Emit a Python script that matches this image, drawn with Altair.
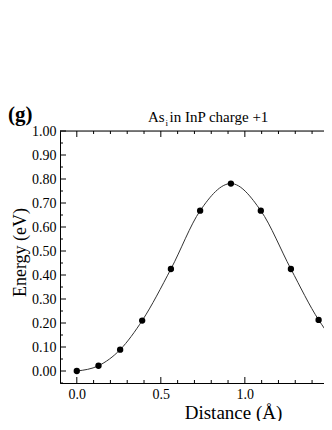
import altair as alt
import pandas as pd

# ---- data ----
distance = [0.0, 0.129, 0.258, 0.389, 0.560, 0.734, 0.917, 1.095, 1.274, 1.439, 1.576, 1.705, 1.834]
energy = [0.0, 0.022, 0.089, 0.210, 0.425, 0.668, 0.781, 0.668, 0.425, 0.213, 0.089, 0.022, 0.0]

x_major = [0.0, 0.5, 1.0, 1.5]
x_minor = [-0.1, 0.1, 0.2, 0.3, 0.4, 0.6, 0.7, 0.8, 0.9, 1.1, 1.2, 1.3, 1.4]
y_major = [0.0, 0.1, 0.2, 0.3, 0.4, 0.5, 0.6, 0.7, 0.8, 0.9, 1.0]
y_minor = [-0.05, 0.05, 0.15, 0.25, 0.35, 0.45, 0.55, 0.65, 0.75, 0.85, 0.95]

panel_label = "(g)"
title_main = "As"
title_sub = "i"
title_rest = "in InP charge +1"
x_title = "Distance (Å)"
y_title = "Energy (eV)"

FONT = "Liberation Serif"
W, H = 264, 252
MAJ, MIN = 6, 3

xs = alt.Scale(domain=[-0.1, 1.471], nice=False, zero=False)
ys = alt.Scale(domain=[-0.05, 1.0], nice=False, zero=False)

xa = alt.Axis(
    values=x_major, format=".1f", title=x_title, ticks=False, tickSize=0,
    domain=True, domainColor="black", domainWidth=1, grid=False,
    labelFont=FONT, labelFontSize=14, labelColor="black", labelPadding=4,
    titleFont=FONT, titleFontSize=19, titleFontWeight="normal",
    titleColor="black", titlePadding=2, titleX=173)
ya = alt.Axis(
    values=y_major, format=".2f", title=y_title, ticks=False, tickSize=0,
    domain=True, domainColor="black", domainWidth=1, grid=False,
    labelFont=FONT, labelFontSize=14, labelColor="black", labelPadding=4,
    titleFont=FONT, titleFontSize=18, titleFontWeight="normal",
    titleColor="black", titlePadding=2, titleY=121)

df = pd.DataFrame({"d": distance, "e": energy})

line = alt.Chart(df).mark_line(
    interpolate="monotone", color="#333333", strokeWidth=1, clip=True
).encode(
    x=alt.X("d:Q", scale=xs, axis=xa),
    y=alt.Y("e:Q", scale=ys, axis=ya),
)

points = alt.Chart(df).mark_point(
    filled=True, color="black", size=40, opacity=1, clip=True
).encode(
    x=alt.X("d:Q", scale=xs, axis=xa),
    y=alt.Y("e:Q", scale=ys, axis=ya),
)


def xticks(vals, length):
    d = pd.DataFrame({"d": vals})
    bottom = alt.Chart(d).mark_rule(color="black", strokeWidth=1, clip=True).encode(
        x=alt.X("d:Q", scale=xs, axis=xa),
        y=alt.value(H), y2=alt.value(H - length))
    top = alt.Chart(d).mark_rule(color="black", strokeWidth=1, clip=True).encode(
        x=alt.X("d:Q", scale=xs, axis=xa),
        y=alt.value(0), y2=alt.value(length))
    return [bottom, top]


def yticks(vals, length):
    d = pd.DataFrame({"e": vals})
    left = alt.Chart(d).mark_rule(color="black", strokeWidth=1).encode(
        y=alt.Y("e:Q", scale=ys, axis=ya),
        x=alt.value(0), x2=alt.value(length))
    return [left]


top_line = alt.Chart(pd.DataFrame({"a": [0]})).mark_rule(
    color="black", strokeWidth=1).encode(
    x=alt.value(0), x2=alt.value(W + 5), y=alt.value(0))


def txt(s, x, y, size, weight="normal", align="left"):
    return alt.Chart(pd.DataFrame({"t": [s]})).mark_text(
        font=FONT, fontSize=size, fontWeight=weight, align=align,
        baseline="alphabetic", color="black"
    ).encode(text="t:N", x=alt.value(x), y=alt.value(y))


texts = [
    txt(panel_label, -52, -10, 21, weight="bold"),
    txt(title_main, 88, -9.5, 15),
    txt(title_sub, 105.5, -5.5, 9),
    txt(title_rest, 109.5, -9.5, 15),
]

layers = [line, points] + xticks(x_major, MAJ) + xticks(x_minor, MIN) \
    + yticks(y_major, MAJ) + yticks(y_minor, MIN) + [top_line] + texts

chart = alt.layer(*layers).properties(
    width=W, height=H,
    padding={"left": 52, "top": 123, "right": 0, "bottom": 38},
    autosize=alt.AutoSizeParams(type="none"),
).configure_view(stroke=None).configure(background="white")

chart.save("out.html", embed_options={"renderer": "svg", "actions": False})
